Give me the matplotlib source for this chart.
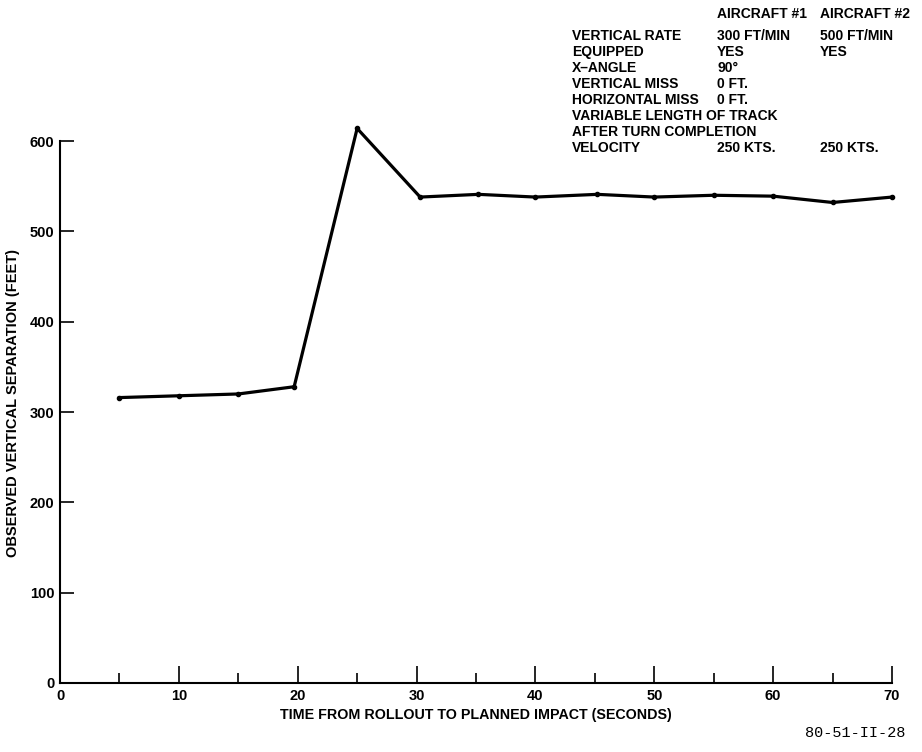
import matplotlib.pyplot as plt

# Observed vertical separation vs time from rollout
time_s = [5, 10, 15, 19.7, 25, 30.3, 35.2, 40, 45.2, 50, 55, 60, 65, 70]
separation_ft = [316, 318, 320, 328, 614, 538, 541, 538, 541, 538, 540, 539, 532, 538]

x_ticks = [0, 10, 20, 30, 40, 50, 60, 70]
y_ticks = [0, 100, 200, 300, 400, 500, 600]

row_labels = ['VERTICAL RATE', 'EQUIPPED', 'X\u2013ANGLE', 'VERTICAL MISS', 'HORIZONTAL MISS',
              'VARIABLE LENGTH OF TRACK', 'AFTER TURN COMPLETION', 'VELOCITY']
aircraft1 = ['300 FT/MIN', 'YES', '90\u00b0', '0 FT.', '0 FT.', '', '', '250 KTS.']
aircraft2 = ['500 FT/MIN', 'YES', '', '', '', '', '', '250 KTS.']

plt.rcParams['font.family'] = ['Liberation Sans', 'DejaVu Sans']
plt.rcParams['font.weight'] = 'bold'

fig = plt.figure(figsize=(9.22, 7.52), dpi=100)
ax = fig.add_axes([60 / 922, 1 - 683 / 752, 832 / 922, 560 / 752])

ax.plot(time_s, separation_ft, color='black', lw=2.3, marker='o', ms=3, clip_on=False)

ax.set_xlim(0, 70)
ax.set_ylim(0, 620)
ax.spines['top'].set_visible(False)
ax.spines['right'].set_visible(False)
ax.spines['left'].set_bounds(0, 600)
ax.spines['left'].set_linewidth(1.5)
ax.spines['bottom'].set_linewidth(1.5)

ax.set_xticks(x_ticks)
ax.set_xticks([5, 15, 25, 35, 45, 55, 65], minor=True)
ax.set_yticks(y_ticks)
ax.tick_params(axis='x', which='major', direction='in', length=12, width=1.2, labelsize=10.5, pad=4)
ax.tick_params(axis='x', which='minor', direction='in', length=7, width=1.2)
ax.tick_params(axis='y', which='major', direction='in', length=10, width=1.2, labelsize=10.5, pad=4)
for lbl in ax.get_xticklabels() + ax.get_yticklabels():
    lbl.set_fontweight('bold')

ax.set_xlabel('TIME FROM ROLLOUT TO PLANNED IMPACT (SECONDS)', fontsize=10.3, fontweight='bold', labelpad=4)
ax.set_ylabel('OBSERVED VERTICAL SEPARATION (FEET)', fontsize=10.5, fontweight='bold', labelpad=7)

# parameter table in the top right
fs = 10
fig.text(717 / 922, 1 - 14 / 752, 'AIRCRAFT #1', fontsize=fs, fontweight='bold', va='center')
fig.text(820 / 922, 1 - 14 / 752, 'AIRCRAFT #2', fontsize=fs, fontweight='bold', va='center')
for i, (lab, a1, a2) in enumerate(zip(row_labels, aircraft1, aircraft2)):
    yy = 1 - (36 + i * 16) / 752
    fig.text(572 / 922, yy, lab, fontsize=fs, fontweight='bold', va='center')
    fig.text(717 / 922, yy, a1, fontsize=fs, fontweight='bold', va='center')
    fig.text(820 / 922, yy, a2, fontsize=fs, fontweight='bold', va='center')

fig.text(905 / 922, 1 - 733 / 752, '80-51-II-28', fontsize=11, family='Liberation Mono',
         fontweight='normal', ha='right', va='center')

fig.savefig('out.png', dpi=100, facecolor='white')
